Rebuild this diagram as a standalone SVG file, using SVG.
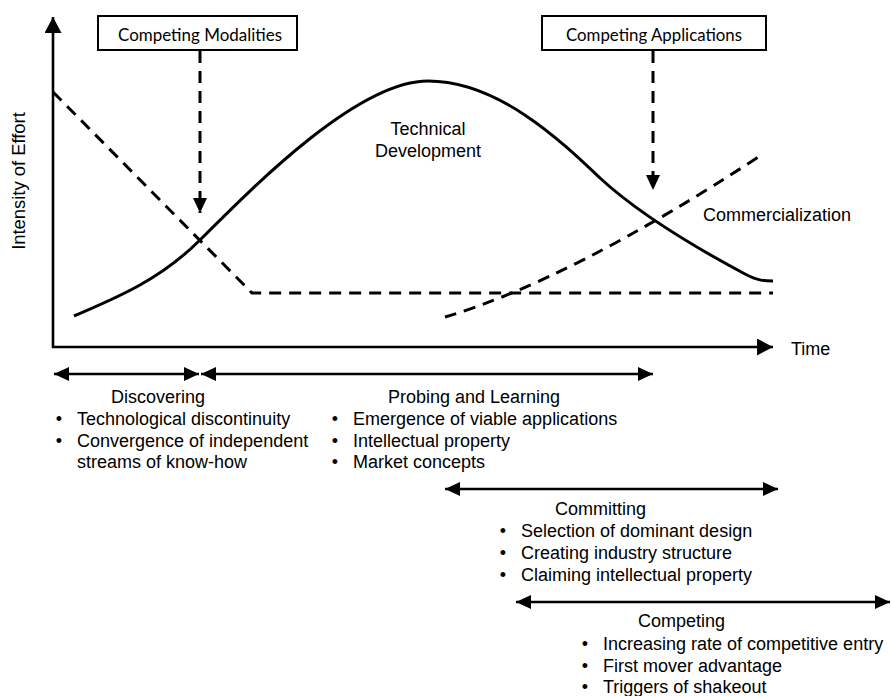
<svg xmlns="http://www.w3.org/2000/svg" width="891" height="696" viewBox="0 0 891 696">
<style>
.t{font-family:"Liberation Sans",Arial,sans-serif;font-size:18px;fill:#000}
.box{fill:#fff;stroke:#000;stroke-width:2}
.bt{font-family:Lato,"Open Sans",sans-serif;font-size:17px;fill:#000}
.solid{fill:none;stroke:#000;stroke-width:3}
.dash{fill:none;stroke:#000;stroke-width:3;stroke-dasharray:12 8}
.axis{fill:none;stroke:#000;stroke-width:2.6}
.span{fill:none;stroke:#000;stroke-width:2.4}
</style>
<defs>
<marker id="ah" markerUnits="userSpaceOnUse" markerWidth="16" markerHeight="16" refX="15" refY="7" orient="auto-start-reverse" viewBox="0 0 16 14">
<path d="M0,0 L15,7 L0,14 z" fill="#000"/>
</marker>
<marker id="ax" markerUnits="userSpaceOnUse" markerWidth="17" markerHeight="17" refX="15" refY="8" orient="auto" viewBox="0 0 16 16">
<path d="M0,0 L15,8 L0,16 z" fill="#000"/>
</marker>
</defs>

<g id="axes">
<line class="axis" x1="53" y1="348" x2="53" y2="17" marker-end="url(#ax)"/>
<line class="axis" x1="52" y1="347" x2="773" y2="347" marker-end="url(#ax)"/>
<text class="t" transform="translate(25,181) rotate(-90)" text-anchor="middle" style="font-size:18.4px">Intensity of Effort</text>
<text class="t" x="791" y="355">Time</text>
</g>

<g id="curves">
<path id="technical-development" class="solid" d="M74,316 C116,298 160,280 200,240 C255,185 358,81 428,81 C498,81 560,140 600,178 C640,215 700,250 745,274 C758,281 765,281 773,281"/>
<path id="discovery-effort" class="dash" d="M53,92 L252,293 L773,293"/>
<path id="commercialization" class="dash" d="M445,317 Q570,280 760,156"/>
<text class="t" x="428" y="135" text-anchor="middle">Technical</text>
<text class="t" x="428" y="157" text-anchor="middle">Development</text>
<text class="t" x="703" y="221">Commercialization</text>
</g>

<g id="competing-modalities">
<rect class="box" x="98" y="16" width="199" height="34"/>
<text class="bt" x="200" y="41" text-anchor="middle" textLength="164" lengthAdjust="spacingAndGlyphs">Competing Modalities</text>
</g>
<g id="competing-applications">
<rect class="box" x="542" y="16" width="224" height="34"/>
<text class="bt" x="654" y="41" text-anchor="middle" textLength="176" lengthAdjust="spacingAndGlyphs">Competing Applications</text>
</g>

<g id="connectors">
<line class="dash" x1="200" y1="51" x2="200" y2="213" marker-end="url(#ah)"/>
<line class="dash" x1="653" y1="51" x2="653" y2="190" marker-end="url(#ah)"/>
<line class="span" x1="54" y1="374" x2="199" y2="374" marker-start="url(#ah)" marker-end="url(#ah)"/>
<line class="span" x1="201" y1="374" x2="653" y2="374" marker-start="url(#ah)" marker-end="url(#ah)"/>
<line class="span" x1="445" y1="489" x2="778" y2="489" marker-start="url(#ah)" marker-end="url(#ah)"/>
<line class="span" x1="516" y1="602" x2="890" y2="602" marker-start="url(#ah)" marker-end="url(#ah)"/>
</g>

<g id="discovering">
<text class="t" x="158" y="403" text-anchor="middle">Discovering</text>
<text class="t" x="59" y="425" text-anchor="middle">•</text>
<text class="t" x="77" y="425">Technological discontinuity</text>
<text class="t" x="59" y="446.5" text-anchor="middle">•</text>
<text class="t" x="77" y="446.5">Convergence of independent</text>
<text class="t" x="77" y="468">streams of know-how</text>
</g>

<g id="probing-and-learning">
<text class="t" x="388" y="403">Probing and Learning</text>
<text class="t" x="335" y="425" text-anchor="middle">•</text>
<text class="t" x="353" y="425">Emergence of viable applications</text>
<text class="t" x="335" y="446.5" text-anchor="middle">•</text>
<text class="t" x="353" y="446.5">Intellectual property</text>
<text class="t" x="335" y="468" text-anchor="middle">•</text>
<text class="t" x="353" y="468">Market concepts</text>
</g>

<g id="committing">
<text class="t" x="555" y="515">Committing</text>
<text class="t" x="503" y="537" text-anchor="middle">•</text>
<text class="t" x="521" y="537">Selection of dominant design</text>
<text class="t" x="503" y="559" text-anchor="middle">•</text>
<text class="t" x="521" y="559">Creating industry structure</text>
<text class="t" x="503" y="581" text-anchor="middle">•</text>
<text class="t" x="521" y="581">Claiming intellectual property</text>
</g>

<g id="competing">
<text class="t" x="638" y="627">Competing</text>
<text class="t" x="585" y="650" text-anchor="middle">•</text>
<text class="t" x="603" y="650">Increasing rate of competitive entry</text>
<text class="t" x="585" y="672" text-anchor="middle">•</text>
<text class="t" x="603" y="672">First mover advantage</text>
<text class="t" x="585" y="693" text-anchor="middle">•</text>
<text class="t" x="603" y="693">Triggers of shakeout</text>
</g>
</svg>
